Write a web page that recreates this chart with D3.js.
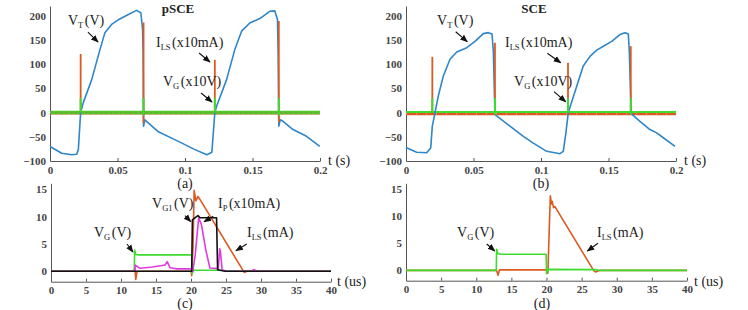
<!DOCTYPE html>
<html lang="en">
<head>
<meta charset="UTF-8" />
<title>pSCE vs SCE</title>
<script src="https://cdn.jsdelivr.net/npm/d3@7"></script>
<style>
  body { margin: 0; background: #fff; }
</style>
</head>
<body>
<script>
// ---- (a) pSCE, slow time base (s) ----
var vtA_t = [0, 0.0087, 0.016, 0.0198, 0.021, 0.0227, 0.0246, 0.0309, 0.037, 0.0407, 0.0456, 0.0503, 0.0577, 0.0641, 0.0673, 0.0686, 0.069, 0.0693, 0.0703, 0.0715, 0.0799, 0.0947, 0.107, 0.1162, 0.1199, 0.1221, 0.1234, 0.1308, 0.1369, 0.1419, 0.148, 0.1554, 0.1628, 0.1665, 0.1685, 0.169, 0.1695, 0.1705, 0.1726, 0.18, 0.19, 0.1998];
var vtA_v = [-70, -84, -87, -86, -76, 0, 20, 68, 130, 165, 182, 191, 202, 211, 206, 171, 120, -28, -15, -18, -39, -59, -76, -87, -82, 0, 13, 68, 130, 168, 185, 194, 209, 210, 192, 120, -28, -15, -18, -35, -49, -70];
var spikeA_t = [0.0227, 0.0693, 0.1221, 0.1695];
var ilsA_top = [121, 186, 109, 189];
var ilsA_bot = [0, -22, 0, -20];
var vgA_top = [30, 30, 30, 30];

// ---- (b) SCE, slow time base (s) ----
var vtB_t = [0, 0.0079, 0.0153, 0.0183, 0.0195, 0.0215, 0.0239, 0.0276, 0.0326, 0.0376, 0.045, 0.0511, 0.0573, 0.061, 0.0637, 0.0647, 0.0659, 0.0676, 0.077, 0.0869, 0.0943, 0.1042, 0.1141, 0.1165, 0.1183, 0.1202, 0.1264, 0.1313, 0.1363, 0.1413, 0.1462, 0.1524, 0.1585, 0.1622, 0.1647, 0.1654, 0.1668, 0.1733, 0.1807, 0.1857, 0.1906, 0.1993];
var vtB_v = [-72, -82, -83, -73, -28, 0, 34, 75, 110, 125, 134, 147, 163, 165, 162, 127, -4, -8, -28, -49, -63, -80, -85, -80, -45, 0, 54, 96, 116, 129, 137, 147, 161, 165, 162, 127, -2, -18, -35, -42, -52, -70];
var spikeB_t = [0.0195, 0.0659, 0.12, 0.1665];
var ilsB_top = [115, 144, 103, 137];
var vgB_top = [30, 30, 30, 30];

// ---- (c) pSCE, one switching event (us) ----
var vgC_t = [0, 11.9, 11.95, 12.1, 12.5, 20.1, 20.15, 20.4, 24.5, 24.8, 40];
var vgC_v = [0, 0, 3.9, 3.1, 3.0, 3.0, -0.4, 0.2, 0.2, 0, 0];
var ilsC_t = [0, 11.8, 12.0, 12.1, 12.3, 20.0, 20.1, 20.3, 20.45, 20.7, 21.0, 21.3, 27.6, 28.0, 40];
var ilsC_v = [0, 0, 0.5, -1.5, 0, 0, -0.8, 5, 14.8, 12.9, 13.7, 13.1, -0.2, 0, 0];
var ipC_t = [0, 11.95, 12.05, 12.7, 14.5, 16.3, 16.6, 17.0, 18, 20.1, 20.25, 20.6, 21.1, 21.5, 22.1, 22.7, 23.9, 24.1, 24.2, 24.45, 25, 28.5, 29, 29.5, 40];
var ipC_v = [0, 0, 1.15, 0.55, 0.8, 1.15, 1.76, 0.66, 0.45, 0.45, 0, 3, 9.8, 8.5, 4, 0.6, 0.5, 4.1, 3.6, 0.3, 0, 0, 0.3, 0, 0];
var vg1C_t = [0, 20.1, 20.2, 20.6, 21.0, 21.3, 23.65, 23.8, 24.5, 25, 40];
var vg1C_v = [0, 0, 9.4, 9.8, 10.2, 9.8, 9.8, 0.3, 0.1, 0, 0];

// ---- (d) SCE, one switching event (us) ----
var vgD_t = [0, 12.85, 12.9, 13.1, 13.5, 19.95, 20.0, 20.2, 27, 27.5, 40];
var vgD_v = [0, 0, 3.9, 3.1, 3.0, 3.0, -0.6, 0.2, 0.15, 0, 0];
var ilsD_t = [0, 12.9, 13.1, 13.3, 20.0, 20.2, 20.4, 20.55, 20.7, 20.8, 21.0, 21.2, 26.7, 27.0, 27.5, 40];
var ilsD_v = [0, 0, -0.9, 0.1, 0.1, -0.5, 8, 13.8, 12.3, 12.8, 11.6, 11.8, 0, -0.3, 0, 0];

// ticks
var slowTicks = [0, 0.05, 0.1, 0.15, 0.2];
var slowYTicks = [-100, -50, 0, 50, 100, 150, 200];
var fastTicks = [0, 5, 10, 15, 20, 25, 30, 35, 40];
var fastYTicks = [0, 5, 10, 15];

var C = { blue: "#2f86c8", orange: "#dc5a22", green: "#3ddc2e", magenta: "#e03ae0", black: "#111" };
var SERIF = "'Liberation Serif', 'Times New Roman', serif";

var svg = d3.select("body").append("svg").attr("width", 748).attr("height", 310);

svg.append("defs").append("marker")
  .attr("id", "ah").attr("viewBox", "0 0 10 10").attr("refX", 9).attr("refY", 5)
  .attr("markerWidth", 7).attr("markerHeight", 7).attr("orient", "auto")
  .append("path").attr("d", "M0,1 L10,5 L0,9 Z").attr("fill", "#111");

function zip(t, v) { return t.map(function(d, i) { return [d, v[i]]; }); }

function panel(xr, yr, xd, yd, xt, yt, fmt) {
  var x = d3.scaleLinear().domain(xd).range(xr);
  var y = d3.scaleLinear().domain(yd).range(yr);
  var g = svg.append("g");
  g.append("g").attr("transform", "translate(0," + yr[0] + ")")
    .call(d3.axisBottom(x).tickValues(xt).tickFormat(fmt).tickSizeInner(-3).tickSizeOuter(0).tickPadding(5));
  g.append("g").attr("transform", "translate(" + xr[0] + ",0)")
    .call(d3.axisLeft(y).tickValues(yt).tickSize(0).tickPadding(4));
  g.selectAll(".domain").attr("stroke", "#555");
  g.selectAll(".tick line").attr("stroke", "#555");
  g.selectAll(".tick text").attr("font-family", SERIF).attr("font-weight", "bold")
    .attr("font-size", 11).attr("fill", "#444");
  return { x: x, y: y, g: g };
}

function line(p, data, color, w) {
  var l = d3.line().x(function(d) { return p.x(d[0]); }).y(function(d) { return p.y(d[1]); });
  return p.g.append("path").datum(data).attr("d", l).attr("fill", "none")
    .attr("stroke", color).attr("stroke-width", w || 1.5).attr("stroke-linejoin", "round");
}

function spikes(p, ts, tops, bots, color, w) {
  p.g.selectAll(null).data(ts).enter().append("line")
    .attr("x1", function(d) { return p.x(d); }).attr("x2", function(d) { return p.x(d); })
    .attr("y1", function(d, i) { return p.y(bots ? bots[i] : 0); })
    .attr("y2", function(d, i) { return p.y(tops[i]); })
    .attr("stroke", color).attr("stroke-width", w || 1.8);
}

// label with subscript, plus an arrow pointing at the trace
function ann(p, tx, ty, main, sub, rest, arrow) {
  var t = p.g.append("text").attr("font-family", SERIF).attr("font-size", 14).attr("fill", "#222")
    .attr("x", p.x(tx)).attr("y", p.y(ty));
  t.append("tspan").text(main);
  t.append("tspan").attr("font-size", 8.5).attr("dy", 3).text(sub);
  t.append("tspan").attr("dy", -3).attr("dx", 1.5).text(rest);
  if (arrow) {
    p.g.append("line")
      .attr("x1", p.x(arrow[0])).attr("y1", p.y(arrow[1]))
      .attr("x2", p.x(arrow[2])).attr("y2", p.y(arrow[3]))
      .attr("stroke", "#111").attr("stroke-width", 1.1).attr("marker-end", "url(#ah)");
  }
}

function plain(x, y, s, anchor, bold) {
  return svg.append("text").attr("font-family", SERIF).attr("font-size", bold ? 13 : 14)
    .attr("font-weight", bold ? "bold" : "normal").attr("fill", "#222")
    .attr("text-anchor", anchor || "start").attr("x", x).attr("y", y).text(s);
}

var slowFmt = function(d) { return d === 0 ? "0" : String(d); };
var fastFmt = d3.format("d");

// ---- (a) ----
var pa = panel([50, 320], [161, 6], [0, 0.2], [-100, 220], slowTicks, slowYTicks, slowFmt);
line(pa, [[0, -1.5], [0.2, -1.5]], C.orange, 2.5);
line(pa, [[0, 0], [0.2, 0]], "#52c72c", 3.5);
line(pa, [[0, 0], [0.2, 0]], "#8f8a3a", 1.2).attr("stroke-dasharray", "2,3").attr("opacity", 0.6);
line(pa, zip(vtA_t, vtA_v), C.blue, 1.6);
spikes(pa, spikeA_t, ilsA_top, ilsA_bot, C.orange, 1.8);
spikes(pa, spikeA_t, vgA_top, [0, -6, 0, -6], C.green, 2);
ann(pa, 0.0133, 180.8, "V", "T", "(V)", [0.0281, 166, 0.0356, 145.6]);
ann(pa, 0.0785, 135.3, "I", "LS", "(x10mA)", [0.1104, 123, 0.1185, 104.4]);
ann(pa, 0.0837, 54.8, "V", "G", "(x10V)", [0.1119, 40.4, 0.1200, 21.8]);
plain(pa.x(0.0948), 13, "pSCE", "middle", true);
plain(pa.x(0.2) + 8, 165, "t (s)");
plain(185, 188, "(a)", "middle");

// ---- (b) ----
var pb = panel([406, 676], [161, 6], [0, 0.2], [-100, 220], slowTicks, slowYTicks, slowFmt);
line(pb, [[0, -2.5], [0.2, -2.5]], C.orange, 3);
line(pb, [[0, 1], [0.2, 1]], C.green, 2);
line(pb, [[0, -2.5], [0.2, -2.5]], "#fff", 1).attr("stroke-dasharray", "1,9").attr("opacity", 0.5);
line(pb, zip(vtB_t, vtB_v), C.blue, 1.6);
spikes(pb, spikeB_t, ilsB_top, null, C.orange, 1.8);
spikes(pb, spikeB_t, vgB_top, [0, -4, 0, -4], C.green, 2);
ann(pb, 0.023, 180.8, "V", "T", "(V)", [0.0368, 166.9, 0.0454, 146.3]);
ann(pb, 0.0733, 135.3, "I", "LS", "(x10mA)", [0.1047, 122.3, 0.1146, 102.9]);
ann(pb, 0.08, 54.8, "V", "G", "(x10V)", [0.1096, 43.1, 0.1183, 22.4]);
plain(pb.x(0.0948), 13, "SCE", "middle", true);
plain(pb.x(0.2) + 8, 165, "t (s)");
plain(541, 188, "(b)", "middle");

// ---- (c) ----
var pc = panel([51, 331], [281.7, 183.3], [0, 40], [-1.9, 16.1], fastTicks, fastYTicks, fastFmt);
line(pc, zip(ilsC_t, ilsC_v), C.orange, 1.6);
line(pc, zip(vgC_t, vgC_v), C.green, 1.6);
line(pc, zip(ipC_t, ipC_v), C.magenta, 1.6);
line(pc, zip(vg1C_t, vg1C_v), C.black, 1.6);
ann(pc, 6.14, 6.27, "V", "G", "(V)", [10.86, 4.99, 11.71, 3.53]);
ann(pc, 14.43, 11.58, "V", "G1", "(V)", [19.14, 10.17, 19.96, 9.07]);
ann(pc, 23.86, 11.58, "I", "P", "(x10mA)", [23.19, 10.1, 21.86, 9.07]);
ann(pc, 28.0, 6.27, "I", "LS", "(mA)", [27.96, 4.99, 26.43, 3.77]);
plain(pc.x(40) + 6, 286, "t (us)");
plain(185, 308, "(c)", "middle");

// ---- (d) ----
var pd = panel([406, 687], [280.7, 183.3], [0, 40], [-1.9, 16.1], fastTicks, fastYTicks, fastFmt);
line(pd, zip(ilsD_t, ilsD_v), C.orange, 1.6);
line(pd, zip(vgD_t, vgD_v), C.green, 1.6);
ann(pd, 7.26, 6.17, "V", "G", "(V)", [11.49, 4.88, 12.63, 3.59]);
ann(pd, 27.19, 6.17, "I", "LS", "(mA)", [27.33, 5.01, 25.81, 3.59]);
plain(pd.x(40) + 7, 286, "t (us)");
plain(542, 308, "(d)", "middle");
</script>
</body>
</html>
